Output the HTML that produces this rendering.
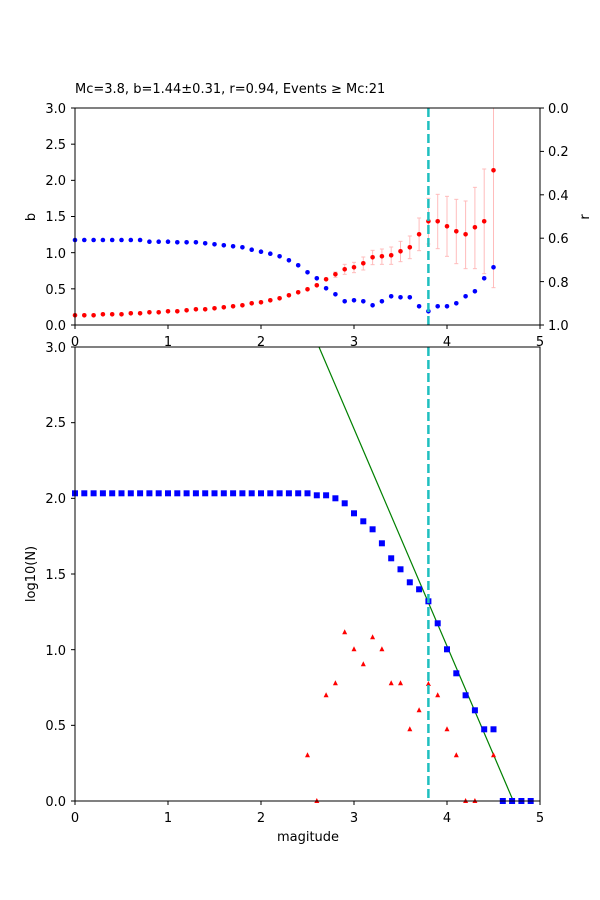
<!DOCTYPE html>
<html><head><meta charset="utf-8"><style>
body{margin:0;background:#fff}
svg{display:block;font-family:"DejaVu Sans","Liberation Sans",sans-serif;font-size:13px}
</style></head><body>
<svg id="s" width="600" height="900" xmlns="http://www.w3.org/2000/svg">
<rect width="600" height="900" fill="#fff"/>
<g id="top"></g><g id="bot"></g>
<text x="75" y="93" font-size="13">Mc=3.8, b=1.44±0.31, r=0.94, Events ≥ Mc:21</text>
<!-- top axes -->
<rect x="75" y="108" width="465" height="217" fill="none" stroke="#000" stroke-width="1"/>
<g text-anchor="end" font-size="13">
<text x="66" y="330">0.0</text><text x="66" y="294">0.5</text><text x="66" y="258">1.0</text><text x="66" y="221">1.5</text><text x="66" y="185">2.0</text><text x="66" y="149">2.5</text><text x="66" y="113">3.0</text>
</g>
<g text-anchor="start" font-size="13">
<text x="548" y="113">0.0</text><text x="548" y="156">0.2</text><text x="548" y="200">0.4</text><text x="548" y="243">0.6</text><text x="548" y="287">0.8</text><text x="548" y="330">1.0</text>
</g>
<g text-anchor="middle" font-size="13">
<text x="75" y="346">0</text><text x="168" y="346">1</text><text x="261" y="346">2</text><text x="354" y="346">3</text><text x="447" y="346">4</text><text x="540" y="346">5</text>
</g>
<text transform="translate(35,217) rotate(-90)" text-anchor="middle">b</text>
<text transform="translate(589,217) rotate(-90)" text-anchor="middle">r</text>
<!-- bottom axes -->
<rect x="75" y="347" width="465" height="454" fill="none" stroke="#000" stroke-width="1"/>
<g text-anchor="end" font-size="13">
<text x="66" y="806">0.0</text><text x="66" y="730">0.5</text><text x="66" y="655">1.0</text><text x="66" y="579">1.5</text><text x="66" y="503">2.0</text><text x="66" y="427">2.5</text><text x="66" y="352">3.0</text>
</g>
<g text-anchor="middle" font-size="13">
<text x="75" y="822">0</text><text x="168" y="822">1</text><text x="261" y="822">2</text><text x="354" y="822">3</text><text x="447" y="822">4</text><text x="540" y="822">5</text>
</g>
<text transform="translate(35,574) rotate(-90)" text-anchor="middle">log10(N)</text>
<text x="308" y="841" text-anchor="middle">magitude</text>
</svg>
<script>
var NS="http://www.w3.org/2000/svg";
function el(p,n,a){var e=document.createElementNS(NS,n);for(var k in a)e.setAttribute(k,a[k]);p.appendChild(e);return e;}
function X(m){return 75+93*m;}
var T=document.getElementById('top'),B=document.getElementById('bot');
// ticks
[0,1,2,3,4,5].forEach(function(i){el(T,'line',{x1:X(i),x2:X(i),y1:325,y2:329,stroke:'#000'});el(B,'line',{x1:X(i),x2:X(i),y1:801,y2:805,stroke:'#000'});});
[0,0.5,1,1.5,2,2.5,3].forEach(function(v){var y=325-72.33*v;el(T,'line',{x1:71,x2:75,y1:y,y2:y,stroke:'#000'});y=801-151.33*v;el(B,'line',{x1:71,x2:75,y1:y,y2:y,stroke:'#000'});});
[0,0.2,0.4,0.6,0.8,1].forEach(function(v){var y=108+217*v;el(T,'line',{x1:540,x2:544,y1:y,y2:y,stroke:'#000'});});
var blue=[240,240,240,240,240,240,240,240,241.7,241.7,241.7,242.3,242.3,242.3,243.3,244.3,245.3,246.3,247.3,249.7,251.7,253.7,256.3,260.3,265.3,272.3,278.3,288.3,294.3,301.3,300.3,301.3,305.3,301.3,296.3,297.3,297.3,306.3,311.3,306.3,306.3,303.3,296.3,291.3,278.3,267.3];
var red=[315.3,315.3,315.3,314.3,314.3,314.3,313.3,313.3,312.3,312.3,311.3,311.3,310.3,309.3,309.3,308.3,307.3,306.3,305.3,303.3,302.3,300.3,298.3,295.3,292.3,289.3,285.3,279.3,274.3,269.3,267.3,263.3,257.3,256.3,255.3,251.3,247.3,234.3,221.3,221.3,226.3,231.3,234.3,227.3,221.3,170.3];
var err={28:[516,532],29:[493,523],30:[487,518],31:[471,510],32:[451,494],33:[447,493],34:[441,493],35:[424,485],36:[408,476],37:[354,452],38:[295,432],39:[283,446],40:[289,469],41:[298,491],42:[303,506],43:[262,506],44:[207,521],45:[0,563]};
for(var k in err){var x=X(k/10),a=Math.max(108,100+err[k][0]/3),b=100+err[k][1]/3;
el(T,'line',{x1:x,x2:x,y1:a,y2:b,stroke:'#ffbcbc','stroke-width':1});
el(T,'line',{x1:x-2,x2:x+2,y1:a,y2:a,stroke:'#ffbcbc'});el(T,'line',{x1:x-2,x2:x+2,y1:b,y2:b,stroke:'#ffbcbc'});}
blue.forEach(function(y,i){el(T,'circle',{cx:X(i/10),cy:y,r:2.3,fill:'#0000ff'});});
red.forEach(function(y,i){el(T,'circle',{cx:X(i/10),cy:y,r:2.3,fill:'#ff0000'});});
el(T,'line',{x1:X(3.8),x2:X(3.8),y1:108,y2:325,stroke:'#1fbfbf','stroke-width':2.5,'stroke-dasharray':'9,4'});
// bottom
var sq=[];for(var i=0;i<=25;i++)sq.push(493.3);
sq=sq.concat([495.3,495.3,498.3,503.3,513.3,521.3,529.3,543.3,558.3,569.3,582.3,589.3,601.3,623.3,649.3,673.3,695.3,710.3,729.3,729.3,801,801,801,801]);
el(B,'line',{x1:319,y1:347,x2:513.3,y2:801,stroke:'#008000','stroke-width':1.2});
sq.forEach(function(y,i){el(B,'rect',{x:X(i/10)-3,y:y-3,width:6,height:6,fill:'#0000ff'});});
var tri={25:755.3,26:801,27:695.3,28:683.3,29:632.3,30:649.3,31:664.3,32:637.3,33:649.3,34:683.3,35:683.3,36:729.3,37:710.3,38:684,39:695.3,40:729.3,41:755.3,42:801,43:801,45:755.3};
for(var k in tri){var x=X(k/10),y=tri[k];el(B,'polygon',{points:(x-2.5)+','+(y+2)+' '+(x+2.5)+','+(y+2)+' '+x+','+(y-3),fill:'#ff0000'});}
el(B,'line',{x1:X(3.8),x2:X(3.8),y1:347,y2:801,stroke:'#1fbfbf','stroke-width':2.5,'stroke-dasharray':'9,4'});
</script>
</body></html>
